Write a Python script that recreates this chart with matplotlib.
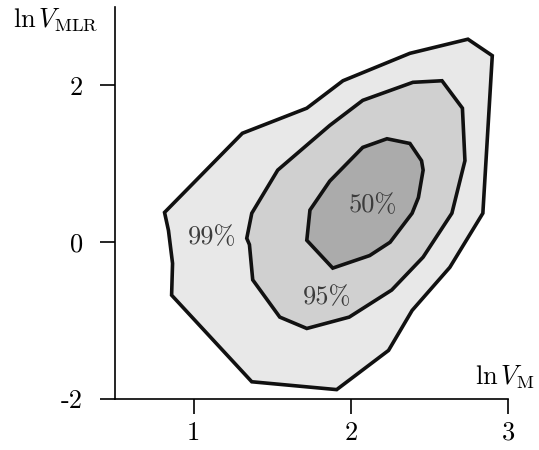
import numpy as np
import matplotlib
matplotlib.use("Agg")
import matplotlib.pyplot as plt

plt.rcParams['mathtext.fontset'] = 'cm'

# confidence region outlines (ln V_M, ln V_MLR)
x99 = [0.815, 1.31, 1.72, 1.95, 2.376, 2.745, 2.90, 2.84, 2.63, 2.39, 2.24, 1.91, 1.37, 0.86, 0.866, 0.84]
y99 = [0.38, 1.39, 1.71, 2.06, 2.41, 2.59, 2.38, 0.37, -0.32, -0.87, -1.38, -1.88, -1.78, -0.675, -0.27, 0.15]

x95 = [1.338, 1.37, 1.535, 1.866, 2.076, 2.395, 2.58, 2.71, 2.726, 2.643, 2.46, 2.26, 1.99, 1.72, 1.548, 1.376, 1.355]
y95 = [0.05, 0.37, 0.92, 1.49, 1.81, 2.04, 2.06, 1.71, 1.04, 0.37, -0.19, -0.61, -0.955, -1.10, -0.955, -0.48, -0.03]

x50 = [1.72, 1.74, 1.866, 2.076, 2.23, 2.376, 2.45, 2.46, 2.43, 2.39, 2.25, 2.12, 1.885]
y50 = [0.025, 0.41, 0.78, 1.21, 1.32, 1.26, 1.04, 0.92, 0.57, 0.37, 0.0, -0.17, -0.33]

labels = ['99%', '95%', '50%']
label_x = [1.115, 1.85, 2.14]
label_y = [0.06, -0.70, 0.47]

xticks = [1, 2, 3]
yticks = [-2, 0, 2]

fig = plt.figure(figsize=(5.39, 4.5), dpi=100)
ax = fig.add_axes([0.2134, 0.1133, 0.7291, 0.871])

ax.fill(x99, y99, facecolor='#e8e8e8', edgecolor='#111111', linewidth=2.6, joinstyle='miter')
ax.fill(x95, y95, facecolor='#d0d0d0', edgecolor='#111111', linewidth=2.6, joinstyle='miter')
ax.fill(x50, y50, facecolor='#ababab', edgecolor='#111111', linewidth=2.6, joinstyle='miter')

for t, lx, ly in zip(labels, label_x, label_y):
    ax.text(lx, ly, t, ha='center', va='center', fontsize=19, family='cmr10', color='#3c3c3c')

ax.set_xlim(0.5, 3)
ax.set_ylim(-2, 3)
ax.spines['top'].set_visible(False)
ax.spines['right'].set_visible(False)
for s in ['left', 'bottom']:
    ax.spines[s].set_linewidth(1.2)
ax.spines['left'].set_bounds(-2, 3)

ax.set_xticks(xticks)
ax.set_xticklabels([str(v) for v in xticks], family='cmr10', fontsize=19)
ax.set_yticks(yticks)
ax.set_yticklabels([str(v) for v in yticks], family='cmr10', fontsize=19)
ax.tick_params(direction='out', length=11, width=1.2, pad=5)
ax.tick_params(axis='y', pad=12)

fig.text(13 / 539, 1 - 27 / 450, r'$\ln V_{\mathrm{MLR}}$', fontsize=19, ha='left', va='baseline')
ax.text(3.17, -1.82, r'$\ln V_{\mathrm{M}}$', fontsize=19, ha='right', va='baseline', clip_on=False)

fig.savefig('out.png', dpi=100)
